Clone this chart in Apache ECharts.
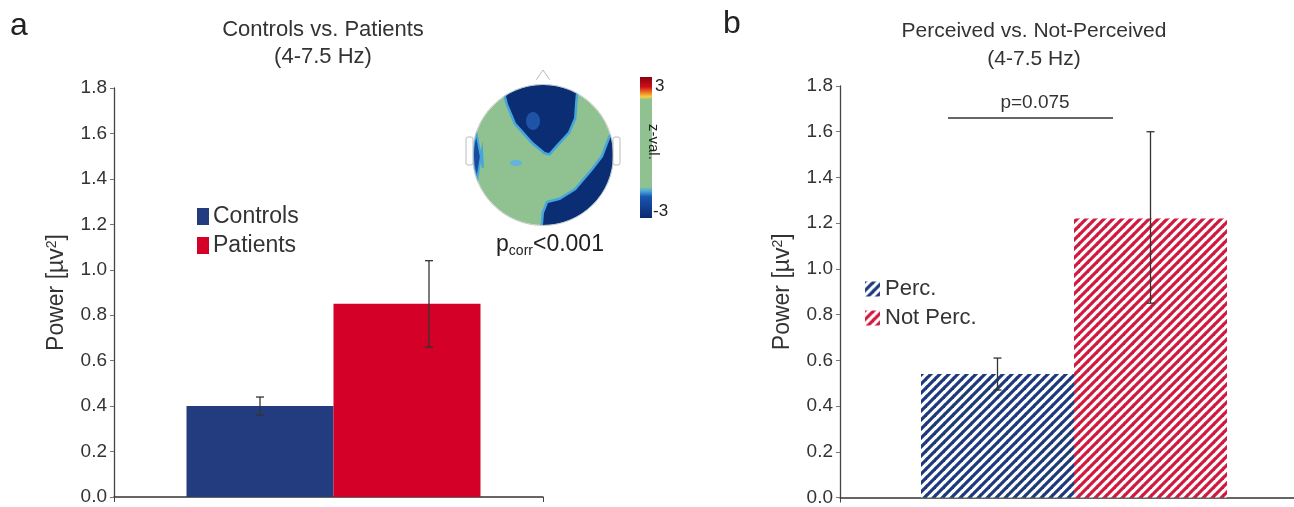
<!DOCTYPE html>
<html><head><meta charset="utf-8">
<script src="https://cdn.jsdelivr.net/npm/echarts@6/dist/echarts.min.js"></script>
<style>html,body{margin:0;padding:0;background:#fff}#c{width:1294px;height:507px}</style>
</head><body><div id="c"></div>
<script>
// ---- data ----
const yTicks = [0, 0.2, 0.4, 0.6, 0.8, 1.0, 1.2, 1.4, 1.6, 1.8];
const groupsA = ['Controls', 'Patients'];
const meanA = [0.40, 0.85];
const errLowA = [0.36, 0.66];
const errHighA = [0.44, 1.04];
const groupsB = ['Perc.', 'Not Perc.'];
const meanB = [0.54, 1.22];
const errLowB = [0.47, 0.85];
const errHighB = [0.61, 1.60];
const pLabelB = 'p=0.075';

const FONT = "'Liberation Sans', Arial, sans-serif";
const BLUE = '#233c80', RED = '#d40028';
const BW_A = 147, BW_B = 153, PAD_A = 10, PAD_B = 14;

function hatch(color) {
  const s = 9, c = document.createElement('canvas');
  c.width = s; c.height = s;
  const g = c.getContext('2d');
  g.fillStyle = '#fff'; g.fillRect(0, 0, s, s);
  g.strokeStyle = color; g.lineWidth = 3.2; g.lineCap = 'square';
  for (const o of [-s, 0, s]) { g.beginPath(); g.moveTo(o, s); g.lineTo(o + s, 0); g.stroke(); }
  return { image: c, repeat: 'repeat' };
}

// offsets (px) of each bar centre relative to the category centre
function errSeries(gridIdx, low, high, offsets, capW) {
  return {
    type: 'custom', xAxisIndex: gridIdx, yAxisIndex: gridIdx, z: 10, silent: true,
    data: low.map((l, i) => [0, l, high[i], i]),
    renderItem: function (params, api) {
      const i = api.value(3);
      const p1 = api.coord([0, api.value(1)]);
      const p2 = api.coord([0, api.value(2)]);
      const x = p1[0] + offsets[i];
      const st = { stroke: '#333', lineWidth: 1.3 };
      return { type: 'group', children: [
        { type: 'line', shape: { x1: x, y1: p1[1], x2: x, y2: p2[1] }, style: st },
        { type: 'line', shape: { x1: x - capW, y1: p2[1], x2: x + capW, y2: p2[1] }, style: st },
        { type: 'line', shape: { x1: x - capW, y1: p1[1], x2: x + capW, y2: p1[1] }, style: st }
      ] };
    }
  };
}

function yAxis(gridIdx) {
  return {
    type: 'value', gridIndex: gridIdx, min: yTicks[0], max: yTicks[yTicks.length - 1], interval: 0.2,
    axisLine: { show: true, lineStyle: { color: '#444', width: 1.3 } },
    axisTick: { show: true, length: 4, lineStyle: { color: '#777' } },
    splitLine: { show: false },
    axisLabel: { fontFamily: FONT, fontSize: 19, color: '#333', margin: 7,
      formatter: v => v.toFixed(1) },
    name: 'Power [µv{s|2}]', nameLocation: 'middle', nameGap: 45,
    nameTextStyle: { fontFamily: FONT, fontSize: 23, color: '#333',
      rich: { s: { fontFamily: FONT, fontSize: 14, color: '#333', padding: [0, 0, 10, 0] } } }
  };
}
function xAxis(gridIdx) {
  return {
    type: 'category', gridIndex: gridIdx, data: [''],
    axisLine: { show: true, lineStyle: { color: '#333', width: 1.5 } },
    axisTick: { show: true, length: 5, lineStyle: { color: '#444' } },
    axisLabel: { show: false }
  };
}

// ---- topographic inset (decoration) ----
const cx = 543, cy = 155, R = 70;
function arc(a0, a1, n) {
  const pts = [];
  for (let k = 0; k <= n; k++) { const a = (a0 + (a1 - a0) * k / n) * Math.PI / 180; pts.push([cx + R * Math.cos(a), cy + R * Math.sin(a)]); }
  return pts;
}
const frontal = arc(-122, -62, 20).concat([[575, 103], [574, 118], [568, 132], [556, 145], [549, 153], [545, 152], [533, 142], [516, 123], [508, 104]]);
const rightBottom = arc(-15, 90, 30).concat([[544, 213], [548, 203], [560, 200], [576, 190], [593, 170], [603, 157]]);
const leftSide = arc(160, 198, 10).concat([[483, 168], [482, 150]]);
const lightBlue = '#45a6dc', darkBlue = '#0b2d74';

const graphics = [
  { type: 'text', left: 10, top: 10, style: { text: 'a', font: '32px ' + FONT, fill: '#222' } },
  { type: 'text', left: 723, top: 8, style: { text: 'b', font: '32px ' + FONT, fill: '#222' } },
  { type: 'text', x: 323, y: 30, style: { text: 'Controls vs. Patients', font: '22px ' + FONT, fill: '#333', align: 'center', verticalAlign: 'middle' } },
  { type: 'text', x: 323, y: 57, style: { text: '(4-7.5 Hz)', font: '22px ' + FONT, fill: '#333', align: 'center', verticalAlign: 'middle' } },
  { type: 'text', x: 1034, y: 31, style: { text: 'Perceived vs. Not-Perceived', font: '21px ' + FONT, fill: '#333', align: 'center', verticalAlign: 'middle' } },
  { type: 'text', x: 1034, y: 59, style: { text: '(4-7.5 Hz)', font: '21px ' + FONT, fill: '#333', align: 'center', verticalAlign: 'middle' } },
  // head
  { type: 'polyline', shape: { points: [[532, 86], [543, 70], [554, 86]] }, style: { stroke: '#bbb', fill: 'none', lineWidth: 1 } },
  { type: 'circle', shape: { cx: cx, cy: cy, r: R }, style: { fill: '#8fc290' } },
  { type: 'polygon', shape: { points: frontal }, style: { fill: lightBlue, stroke: lightBlue, lineWidth: 5, lineJoin: 'round' } },
  { type: 'polygon', shape: { points: frontal }, style: { fill: darkBlue } },
  { type: 'ellipse', shape: { cx: 533, cy: 121, rx: 7, ry: 9 }, style: { fill: '#1f53a6' } },
  { type: 'polygon', shape: { points: rightBottom }, style: { fill: lightBlue, stroke: lightBlue, lineWidth: 5, lineJoin: 'round' } },
  { type: 'polygon', shape: { points: rightBottom }, style: { fill: darkBlue } },
  { type: 'polygon', shape: { points: leftSide }, style: { fill: '#1a4a9e', stroke: lightBlue, lineWidth: 2 } },
  { type: 'ellipse', shape: { cx: 516, cy: 163, rx: 6, ry: 3 }, style: { fill: '#62b4dc' } },
  { type: 'circle', shape: { cx: cx, cy: cy, r: R + 3 }, style: { fill: 'none', stroke: '#fff', lineWidth: 5 } },
  { type: 'circle', shape: { cx: cx, cy: cy, r: R + 0.5 }, style: { fill: 'none', stroke: '#c8c8c8', lineWidth: 1 } },
  { type: 'rect', shape: { x: 466, y: 137, width: 7, height: 28, r: 2 }, style: { stroke: '#bbb', fill: '#fff', lineWidth: 1 } },
  { type: 'rect', shape: { x: 613, y: 137, width: 7, height: 28, r: 2 }, style: { stroke: '#bbb', fill: '#fff', lineWidth: 1 } },
  // colorbar
  { type: 'rect', shape: { x: 640, y: 77, width: 12, height: 141 }, style: { fill: { type: 'linear', x: 0, y: 0, x2: 0, y2: 1, colorStops: [
    { offset: 0, color: '#8a0010' }, { offset: 0.07, color: '#cc0f1a' }, { offset: 0.11, color: '#f07a20' }, { offset: 0.14, color: '#f2d040' },
    { offset: 0.16, color: '#8fc290' }, { offset: 0.78, color: '#8fc290' }, { offset: 0.81, color: '#45a6dc' },
    { offset: 0.85, color: '#1a55b0' }, { offset: 1, color: '#0a2a70' }] } } },
  { type: 'text', x: 655, y: 86, style: { text: '3', font: '17px ' + FONT, fill: '#222', verticalAlign: 'middle' } },
  { type: 'text', x: 653, y: 211, style: { text: '-3', font: '17px ' + FONT, fill: '#222', verticalAlign: 'middle' } },
  { type: 'text', x: 661, y: 124, rotation: -Math.PI / 2, style: { text: 'z-val.', font: '15px ' + FONT, fill: '#222' } },
  { type: 'text', x: 550, y: 245, style: { text: 'p{s|corr}<0.001', font: '23px ' + FONT, fill: '#222', align: 'center', verticalAlign: 'middle',
      rich: { s: { fontFamily: FONT, fontSize: 14, fill: '#222', padding: [12, 0, 0, 0] } } } },
  // significance bar
  { type: 'line', shape: { x1: 948, y1: 118, x2: 1113, y2: 118 }, style: { stroke: '#333', lineWidth: 1.5 } },
  { type: 'text', x: 1035, y: 103, style: { text: pLabelB, font: '19px ' + FONT, fill: '#333', align: 'center', verticalAlign: 'middle' } }
];

const chart = echarts.init(document.getElementById('c'), null, { renderer: 'canvas' });
const hatchBlue = hatch('#1d3a7c'), hatchRed = hatch('#d2183c');
const shiftA = PAD_A / 2, shiftB = PAD_B / 2;
chart.setOption({
  backgroundColor: '#fff',
  animation: false,
  grid: [
    { left: 114, top: 88, width: 429, height: 409 },
    { left: 840, top: 86, width: 454, height: 412 }
  ],
  xAxis: [xAxis(0), xAxis(1)],
  yAxis: [yAxis(0), yAxis(1)],
  legend: [
    { data: groupsA, orient: 'vertical', left: 197, top: 205, padding: 0, itemWidth: 12, itemHeight: 17, itemGap: 6,
      icon: 'rect', textStyle: { fontFamily: FONT, fontSize: 23, color: '#333', padding: [0, 0, 0, -1] } },
    { data: groupsB, orient: 'vertical', left: 865, top: 278, padding: 0, itemWidth: 15, itemHeight: 15, itemGap: 7,
      icon: 'rect', textStyle: { fontFamily: FONT, fontSize: 22, color: '#333', padding: [0, 0, 0, 0] } }
  ],
  series: [
    { name: 'padA', type: 'bar', xAxisIndex: 0, yAxisIndex: 0, data: ['-'], barWidth: PAD_A, barGap: '0%', silent: true },
    { name: groupsA[0], type: 'bar', xAxisIndex: 0, yAxisIndex: 0, data: [meanA[0]], barWidth: BW_A, barGap: '0%', itemStyle: { color: BLUE } },
    { name: groupsA[1], type: 'bar', xAxisIndex: 0, yAxisIndex: 0, data: [meanA[1]], barWidth: BW_A, barGap: '0%', itemStyle: { color: RED } },
    errSeries(0, errLowA, errHighA, [-BW_A / 2 + shiftA, BW_A / 2 + shiftA + 22], 4),
    { name: 'padB', type: 'bar', xAxisIndex: 1, yAxisIndex: 1, data: ['-'], barWidth: PAD_B, barGap: '0%', silent: true },
    { name: groupsB[0], type: 'bar', xAxisIndex: 1, yAxisIndex: 1, data: [meanB[0]], barWidth: BW_B, barGap: '0%', itemStyle: { color: hatchBlue } },
    { name: groupsB[1], type: 'bar', xAxisIndex: 1, yAxisIndex: 1, data: [meanB[1]], barWidth: BW_B, barGap: '0%', itemStyle: { color: hatchRed } },
    errSeries(1, errLowB, errHighB, [-BW_B / 2 + shiftB, BW_B / 2 + shiftB], 4)
  ],
  graphic: graphics
});
</script></body></html>
